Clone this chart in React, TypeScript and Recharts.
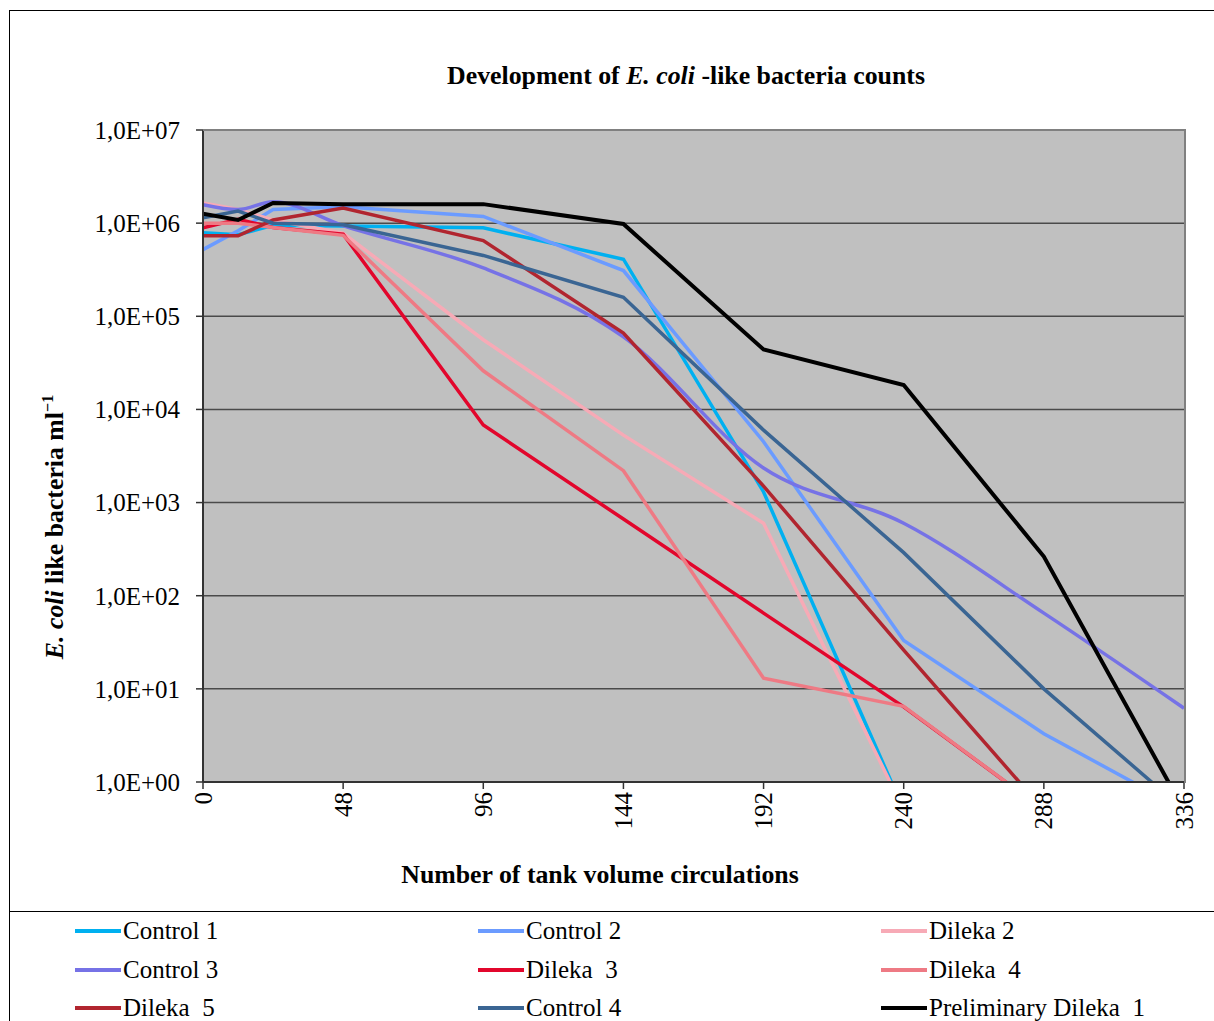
import { CartesianGrid, Line, LineChart, XAxis, YAxis } from 'recharts'

const FONT = '"Liberation Serif", "Times New Roman", serif'

// number of tank volume circulations
const circulations = [0, 12, 24, 48, 96, 144, 192, 240, 288, 336]

// E. coli like bacteria per ml (0.5 = below detection)
const control1 = [790000, 750000, 950000, 930000, 890000, 410000, 1300, 0.5, null, null]
const control2 = [520000, 830000, 1400000, 1500000, 1180000, 310000, 4500, 33, 3.3, 0.5]
const dileka2 = [1650000, 1400000, 1080000, 780000, 56000, 5300, 600, 0.5, null, null]
const control3 = [1580000, 1400000, 1700000, 940000, 330000, 60000, 2350, 600, 65, 6.2]
const dileka3 = [890000, 1100000, 900000, 760000, 6800, 665, 65, 6.4, 0.5, null]
const dileka4 = [1000000, 1000000, 900000, 740000, 26000, 2200, 13, 6.5, 0.5, null]
const dileka5 = [730000, 730000, 1080000, 1450000, 650000, 66000, 1500, 26, 0.5, null]
const control4 = [1140000, 1350000, 1000000, 960000, 450000, 160000, 6000, 290, 10, 0.5]
const prelimDileka1 = [1260000, 1080000, 1650000, 1600000, 1600000, 980000, 44000, 18300, 263, 0.5]

const xTicks = [0, 48, 96, 144, 192, 240, 288, 336]
const yTicks = [1, 10, 100, 1000, 10000, 100000, 1000000, 10000000]

const series = [
  { key: 'control1', name: 'Control 1', color: '#00B0F0', values: control1 },
  { key: 'control2', name: 'Control 2', color: '#6B9BFF', values: control2 },
  { key: 'dileka2', name: 'Dileka 2', color: '#F7AAB6', values: dileka2 },
  { key: 'control3', name: 'Control 3', color: '#7672E6', values: control3, smooth: true },
  { key: 'dileka3', name: 'Dileka  3', color: '#E2062C', values: dileka3 },
  { key: 'dileka4', name: 'Dileka  4', color: '#EE7A84', values: dileka4 },
  { key: 'dileka5', name: 'Dileka  5', color: '#B1252F', values: dileka5 },
  { key: 'control4', name: 'Control 4', color: '#3A6593', values: control4 },
  { key: 'prelim1', name: 'Preliminary Dileka  1', color: '#000000', values: prelimDileka1, width: 4 },
]

const rows = circulations.map((x, i) => {
  const row: Record<string, number | null> = { x }
  series.forEach((s) => {
    row[s.key] = s.values[i]
  })
  return row
})

function formatSci(v: number): string {
  const exp = Math.round(Math.log10(v))
  return `1,0E+${String(exp).padStart(2, '0')}`
}

function XTick({ x, y, payload }: any) {
  return (
    <text
      x={x}
      y={y}
      transform={`rotate(-90, ${x}, ${y})`}
      textAnchor="end"
      dominantBaseline="central"
      fontFamily={FONT}
      fontSize={25}
      fill="#000"
    >
      {payload.value}
    </text>
  )
}

export default function App() {
  return (
    <div
      style={{
        position: 'absolute',
        left: 0,
        top: 0,
        width: 1214,
        height: 1021,
        overflow: 'hidden',
        background: '#fff',
        fontFamily: FONT,
        color: '#000',
      }}
    >
      {/* outer frame */}
      <div
        style={{
          position: 'absolute',
          left: 9,
          top: 10,
          width: 1240,
          height: 1040,
          border: '1px solid #000',
        }}
      />
      {/* legend frame top */}
      <div
        style={{
          position: 'absolute',
          left: 9,
          top: 911,
          width: 1240,
          height: 1,
          background: '#000',
        }}
      />

      <div style={{ position: 'absolute', left: 0, top: 0 }}>
        <LineChart
          width={1214}
          height={900}
          data={rows}
          margin={{ top: 130, right: 30, left: 83, bottom: 58 }}
        >
          <CartesianGrid
            fill="#C0C0C0"
            vertical={false}
            stroke="#4a4a4a"
            strokeWidth={1.5}
          />
          <XAxis
            dataKey="x"
            type="number"
            domain={[0, 336]}
            ticks={xTicks}
            allowDataOverflow
            height={60}
            tickSize={7}
            tickMargin={3}
            axisLine={{ stroke: '#333', strokeWidth: 2 }}
            tickLine={{ stroke: '#333', strokeWidth: 1.5 }}
            tick={<XTick />}
            interval={0}
          />
          <YAxis
            type="number"
            scale="log"
            domain={[1, 10000000]}
            ticks={yTicks}
            allowDataOverflow
            width={120}
            tickSize={7}
            tickMargin={16}
            tickFormatter={formatSci}
            axisLine={{ stroke: '#333', strokeWidth: 2 }}
            tickLine={{ stroke: '#333', strokeWidth: 1.5 }}
            tick={{ fill: '#000', fontSize: 25, fontFamily: FONT }}
            interval={0}
          />
          {series.map((s) => (
            <Line
              key={s.key}
              dataKey={s.key}
              name={s.name}
              type={s.smooth ? 'monotone' : 'linear'}
              stroke={s.color}
              strokeWidth={s.width ?? 3.5}
              dot={false}
              activeDot={false}
              isAnimationActive={false}
            />
          ))}
        </LineChart>
      </div>

      {/* plot frame top / right */}
      <div
        style={{
          position: 'absolute',
          left: 203,
          top: 129,
          width: 981,
          height: 652,
          borderTop: '2px solid #808080',
          borderRight: '2px solid #808080',
        }}
      />

      {/* chart title */}
      <div
        style={{
          position: 'absolute',
          left: 386,
          top: 61,
          width: 600,
          textAlign: 'center',
          fontSize: 25.8,
          lineHeight: '30px',
          fontWeight: 'bold',
          whiteSpace: 'nowrap',
        }}
      >
        Development of <i>E. coli</i> -like bacteria counts
      </div>

      {/* x axis title */}
      <div
        style={{
          position: 'absolute',
          left: 300,
          top: 860,
          width: 600,
          textAlign: 'center',
          fontSize: 25.8,
          lineHeight: '30px',
          fontWeight: 'bold',
          whiteSpace: 'nowrap',
        }}
      >
        Number of tank volume circulations
      </div>

      {/* y axis title */}
      <div
        style={{
          position: 'absolute',
          left: 55 - 200,
          top: 527 - 15,
          width: 400,
          height: 30,
          lineHeight: '30px',
          textAlign: 'center',
          fontSize: 25.8,
          fontWeight: 'bold',
          whiteSpace: 'nowrap',
          transform: 'rotate(-90deg)',
        }}
      >
        <i>E. coli</i> like bacteria ml
        <sup style={{ fontSize: 16, lineHeight: 0 }}>−1</sup>
      </div>

      {/* legend */}
      {series.map((s, i) => {
        const col = i % 3
        const row = Math.floor(i / 3)
        const left = [75, 478, 881][col]
        const cy = [931, 970, 1008][row]
        return (
          <div
            key={s.key}
            style={{
              position: 'absolute',
              left,
              top: cy - 15,
              height: 30,
              display: 'flex',
              alignItems: 'center',
              whiteSpace: 'pre',
              fontSize: 25,
            }}
          >
            <span
              style={{
                display: 'inline-block',
                width: 46,
                height: 4,
                background: s.color,
                marginRight: 2,
              }}
            />
            {s.name}
          </div>
        )
      })}
    </div>
  )
}
